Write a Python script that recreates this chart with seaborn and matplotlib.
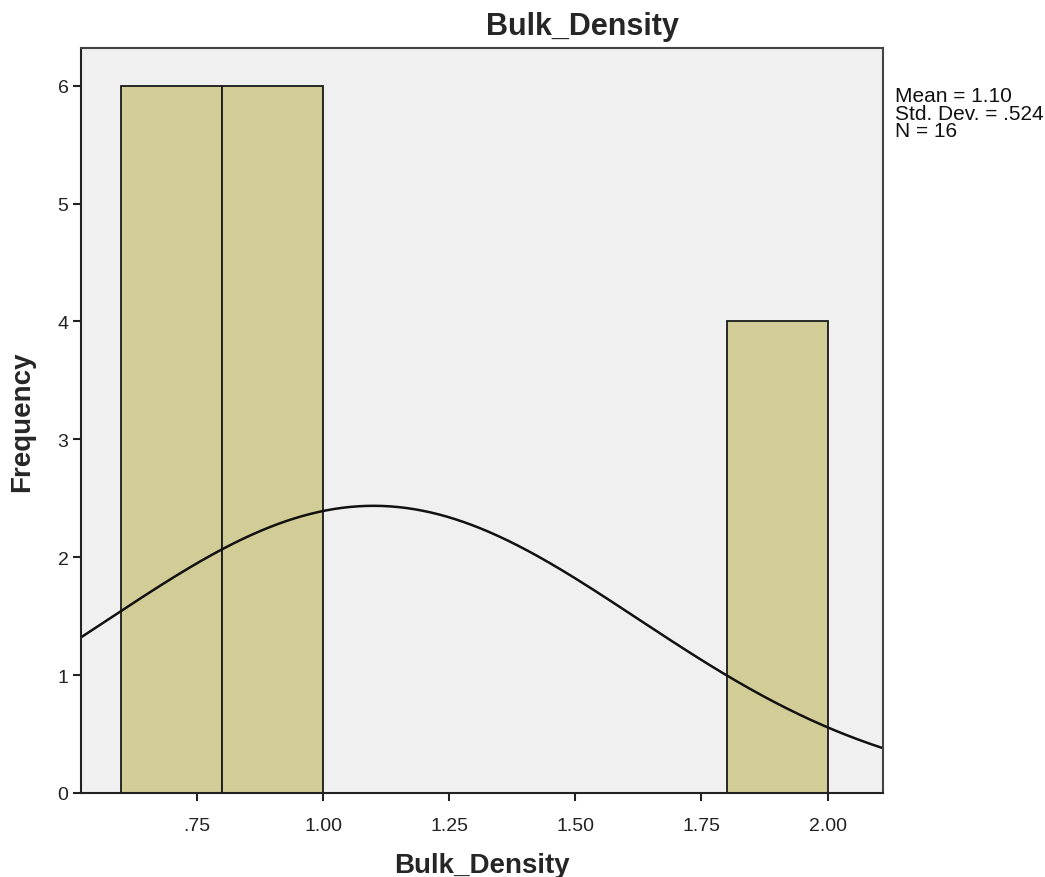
import numpy as np
import pandas as pd
import matplotlib
matplotlib.use("Agg")
import matplotlib.pyplot as plt
import seaborn as sns

# Data
bin_edges = [0.6, 0.8, 1.0, 1.2, 1.4, 1.6, 1.8, 2.0]
bin_centers = [0.7, 0.9, 1.9]
counts = [6, 6, 4]
mean_val = 1.10
sd_val = 0.524
n_val = 16
x_ticks = [0.75, 1.00, 1.25, 1.50, 1.75, 2.00]
x_ticklabels = [".75", "1.00", "1.25", "1.50", "1.75", "2.00"]
y_ticks = [0, 1, 2, 3, 4, 5, 6]

sns.set_style("white")
plt.rcParams['font.family'] = ['Liberation Sans', 'DejaVu Sans']

fig = plt.figure(figsize=(10.45, 8.78), dpi=100)
ax = fig.add_axes([81/1045, 1-794/878, (883-81)/1045, (794-49)/878])
ax.set_facecolor("#F0F0F0")

df = pd.DataFrame({"Bulk_Density": bin_centers, "count": counts})
sns.histplot(data=df, x="Bulk_Density", weights="count", bins=bin_edges,
             color="#D2CD96", alpha=1.0, edgecolor="#1a1a1a", linewidth=1.3, ax=ax)

xlim = (0.52, 2.11)
bw = bin_edges[1] - bin_edges[0]
xs = np.linspace(xlim[0], xlim[1], 400)
ys = n_val * bw / (sd_val * np.sqrt(2 * np.pi)) * np.exp(-0.5 * ((xs - mean_val) / sd_val) ** 2)
sns.lineplot(x=xs, y=ys, color="#111111", linewidth=1.8, ax=ax)

ax.set_xlim(*xlim)
ax.set_ylim(0, 6.32)
ax.set_xticks(x_ticks)
ax.set_xticklabels(x_ticklabels)
ax.set_yticks(y_ticks)
ax.tick_params(axis="both", bottom=True, left=True, direction="out", length=6, width=1.5,
               colors="#222222", labelsize=14, pad=3)
ax.tick_params(axis="x", pad=11)
for s in ax.spines.values():
    s.set_visible(True)
    s.set_color("#444444")
    s.set_linewidth(1.5)
ax.spines["left"].set_color("#222222")
ax.spines["bottom"].set_color("#222222")

ax.set_xlabel("Bulk_Density", fontsize=20, fontweight="bold", labelpad=13)
ax.set_ylabel("Frequency", fontsize=20, fontweight="bold", labelpad=16)

fig.text(582/1045, 1-27/878, "Bulk_Density", fontsize=22, fontweight="bold",
         ha="center", va="center")
fig.text(895/1045, 1-114/878, "Mean = 1.10\nStd. Dev. = .524\nN = 16",
         fontsize=15, ha="left", va="center", linespacing=0.88, color="#111111")

fig.savefig("out.png", dpi=100)
